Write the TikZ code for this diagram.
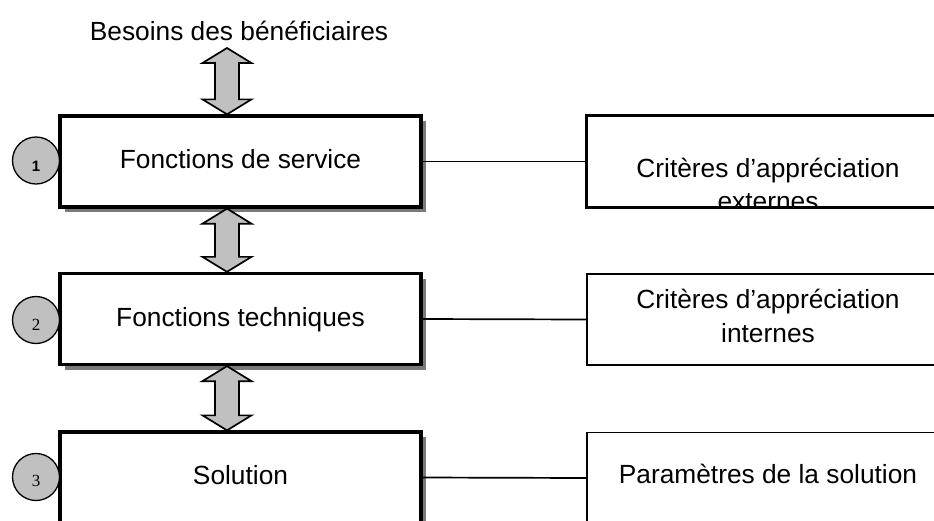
\documentclass[tikz,border=0pt]{standalone}
\usepackage{fontspec}
\setmainfont{Liberation Sans}
\newfontfamily\numserif{Liberation Serif}
\usetikzlibrary{calc,shadows}
\definecolor{argray}{HTML}{C0C0C0}
\definecolor{shgray}{HTML}{7A7A7A}
\newcommand\vdarrow[2]{%
  \draw[dblarr] let \p1=(#1), \p2=(#2) in
    (\x1,\y1) -- (\x1+24.5pt,\y1-15pt) -- (\x1+12pt,\y1-15pt) -- (\x1+12pt,\y2+15pt)
    -- (\x1+24.5pt,\y2+15pt) -- (\x2,\y2) -- (\x1-24.5pt,\y2+15pt) -- (\x1-12pt,\y2+15pt)
    -- (\x1-12pt,\y1-15pt) -- (\x1-24.5pt,\y1-15pt) -- cycle;}
\begin{document}
\begin{tikzpicture}[x=1pt,y=-1pt,
  bigtxt/.style={font=\fontsize{26.3}{31}\selectfont},
  mainbox/.style={draw, line width=3.3pt, fill=white, minimum width=361pt, minimum height=91pt,
    inner sep=0pt, text height=19pt, text depth=5pt, bigtxt,
    drop shadow={shadow xshift=5pt, shadow yshift=-5pt, fill=shgray, opacity=1}},
  sidebox/.style={draw, line width=1.8pt, minimum width=361pt, minimum height=91pt, inner sep=0pt},
  linetxt/.style={anchor=base, inner sep=0pt, bigtxt},
  numcirc/.style={circle, draw, line width=1.3pt, fill=argray, minimum size=47pt, inner sep=0pt},
  numtxt/.style={anchor=base, inner sep=0pt},
  conn/.style={line width=1.7pt},
  dblarr/.style={draw, line width=1.7pt, fill=argray, line join=miter}
]
\useasboundingbox (0,0) rectangle (934,520);
\clip (0,0) rectangle (934,520);

% title
\node[linetxt] (need) at (239,40) {Besoins des bénéficiaires};

% main boxes
\node[mainbox] (b1) at (240.5,161.5) {Fonctions de service};
\node[mainbox] (b2) at (240.5,319) {Fonctions techniques};
\node[mainbox] (b3) at (240.5,477.5) {Solution};

% number circles
\node[numcirc] (c1) at (36,160.5) {};
\node[numcirc] (c2) at (36,320) {};
\node[numcirc] (c3) at (36,477) {};
\node[numtxt, font=\bfseries\fontsize{15}{17}\selectfont] (n1) at (36,171.5) {1};
\node[numtxt, font=\numserif\fontsize{17}{19}\selectfont] (n2) at (36,330.5) {2};
\node[numtxt, font=\numserif\fontsize{17}{19}\selectfont] (n3) at (36,486.5) {3};

% side boxes
\node[sidebox] (r1) at (767.5,161.5) {};
\node[sidebox] (r2) at (767.5,319.5) {};
\node[sidebox] (r3) at (767.5,478) {};
\begin{scope}
  \clip (r1.south west) rectangle (r1.north east);
  \node[linetxt] (r1a) at (768,177) {Critères d’appréciation};
  \node[linetxt] (r1b) at (768,210) {externes};
\end{scope}
\node[linetxt] (r2a) at (768,308) {Critères d’appréciation};
\node[linetxt] (r2b) at (768,342) {internes};
\node[linetxt] (r3a) at (768,483) {Paramètres de la solution};
\draw[line width=1.8pt] (r1.south west) rectangle (r1.north east);

% connectors
\draw[conn] (b1.east) -- (r1.west);
\draw[conn] (b2.east) -- (r2.west);
\draw[conn] (b3.east) -- (r3.west);

% double arrows
\coordinate (ax) at (227,0);
\coordinate (t0) at (227,48);
\vdarrow{t0}{ax |- b1.north}
\vdarrow{ax |- b1.south}{ax |- b2.north}
\vdarrow{ax |- b2.south}{ax |- b3.north}
\end{tikzpicture}
\end{document}
